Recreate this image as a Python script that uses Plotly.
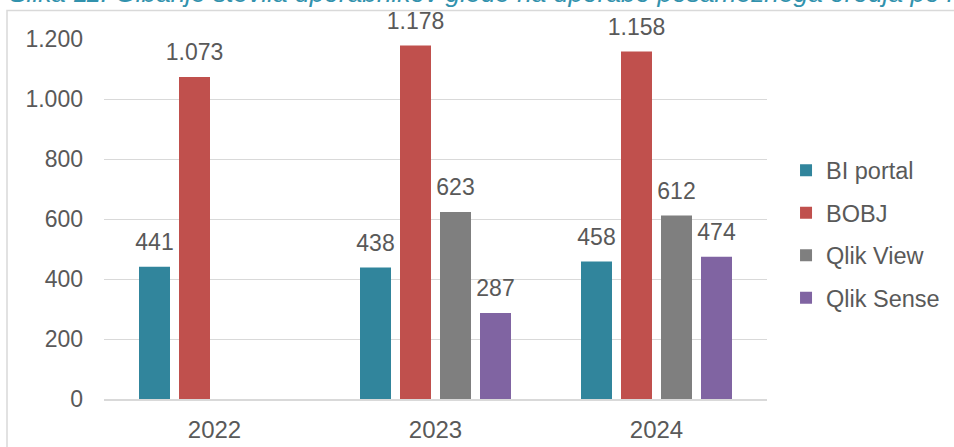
import plotly.graph_objects as go

categories = ["2022", "2023", "2024"]
series_names = ["BI portal", "BOBJ", "Qlik View", "Qlik Sense"]
bi_portal = [441, 438, 458]
bobj = [1073, 1178, 1158]
qlik_view = [None, 623, 612]
qlik_sense = [None, 287, 474]
y_ticks = [0, 200, 400, 600, 800, 1000, 1200]
title_text = "Slika 11: Gibanje števila uporabnikov glede na uporabo posameznega orodja po letih"

colors = ["#31859C", "#C0504D", "#7F7F7F", "#8064A2"]
values = [bi_portal, bobj, qlik_view, qlik_sense]
TXT = "#595959"
FONT = "Arial, Liberation Sans, sans-serif"

fig = go.Figure()
for name, vals, col in zip(series_names, values, colors):
    fig.add_trace(go.Bar(
        x=categories, y=vals, name=name, legendgroup=name,
        marker=dict(color=col, line=dict(width=0)),
        hoverinfo="skip",
    ))
for name, vals in zip(series_names, values):
    fig.add_trace(go.Scatter(
        x=categories, y=vals, mode="markers+text", showlegend=False,
        marker=dict(size=16, opacity=0),
        texttemplate="%{y:,}", textposition="top center",
        textfont=dict(size=23, color=TXT, family=FONT),
        cliponaxis=False, hoverinfo="skip",
    ))

fig.update_layout(
    width=954, height=447,
    margin=dict(l=104, r=187, t=39, b=48, autoexpand=False),
    paper_bgcolor="white", plot_bgcolor="white",
    separators=",.",
    barmode="group", bargap=0.276, bargroupgap=0.225,
    scattermode="group", scattergap=0.276,
    font=dict(family=FONT, color=TXT, size=23),
    showlegend=True,
    legend=dict(x=1.0287, xanchor="left", y=0.696, yanchor="top",
                font=dict(size=23.5, color=TXT, family=FONT),
                tracegroupgap=9, bgcolor="rgba(0,0,0,0)"),
    xaxis=dict(type="category", showgrid=False, showline=True,
               linecolor="#D9D9D9", linewidth=1.5, ticks="",
               tickfont=dict(size=24, color=TXT), ticklabelstandoff=8,
               automargin=False),
    yaxis=dict(range=[0, 1200], tickvals=y_ticks, separatethousands=True,
               showgrid=True, gridcolor="#D9D9D9", gridwidth=1.3,
               zeroline=False, showline=False, ticks="",
               tickfont=dict(size=23, color=TXT), ticklabelstandoff=20,
               automargin=False),
    shapes=[dict(type="rect", xref="paper", yref="paper",
                 x0=(7 - 104) / 663, x1=1.5, y0=-0.5, y1=(399 - 10.5) / 360,
                 line=dict(color="#D9D9D9", width=1.5), fillcolor="rgba(0,0,0,0)",
                 layer="below")],
    annotations=[dict(text="<i>" + title_text + "</i>", xref="paper", yref="paper",
                      x=(7 - 104) / 663, xanchor="left",
                      y=(399 - 10) / 360, yanchor="bottom", showarrow=False,
                      font=dict(size=26.3, color="#3292AD", family=FONT))],
)

fig.write_html("out.html", config={"displayModeBar": False},
               post_script="document.body.style.margin='0';document.body.style.overflow='hidden';")
